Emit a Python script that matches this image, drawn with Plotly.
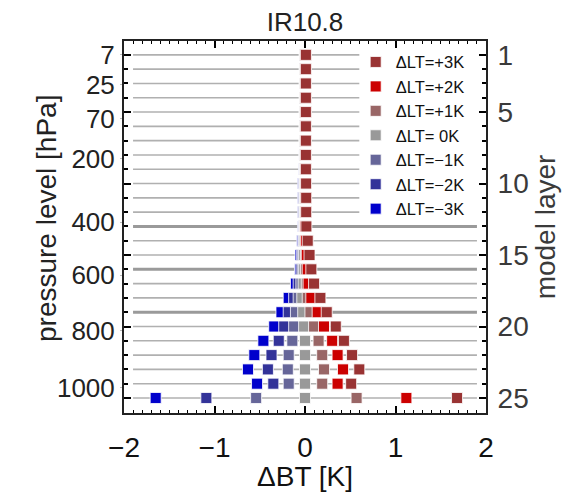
import plotly.graph_objects as go

# ---------------- data ----------------
layers = list(range(1, 26))

series_names = ["ΔLT=−3K", "ΔLT=−2K", "ΔLT=−1K", "ΔLT= 0K", "ΔLT=+1K", "ΔLT=+2K", "ΔLT=+3K"]

dbt_m3 = [-0.003, -0.003, -0.003, -0.003, -0.004, -0.004, -0.005, -0.006, -0.008, -0.02, -0.02, -0.02,
          -0.02, -0.03, -0.05, -0.055, -0.10, -0.18, -0.26, -0.34, -0.46, -0.56, -0.63, -0.53, -1.65]
dbt_m2 = [-0.002, -0.002, -0.002, -0.002, -0.003, -0.003, -0.004, -0.004, -0.005, -0.012, -0.013, -0.013,
          -0.015, -0.02, -0.035, -0.04, -0.07, -0.12, -0.18, -0.23, -0.29, -0.37, -0.41, -0.35, -1.09]
dbt_m1 = [-0.001, -0.001, -0.001, -0.001, -0.001, -0.002, -0.002, -0.002, -0.003, -0.006, -0.007, -0.007,
          -0.01, -0.01, -0.02, -0.025, -0.04, -0.07, -0.10, -0.12, -0.14, -0.18, -0.19, -0.18, -0.54]
dbt_0 = [0.0, 0.0, 0.0, 0.0, 0.0, 0.0, 0.0, 0.0, 0.0, 0.0, 0.0, 0.0,
         -0.005, -0.005, -0.01, -0.01, -0.015, -0.03, -0.02, -0.01, 0.0, 0.0, 0.0, 0.0, 0.0]
dbt_p1 = [0.003, 0.003, 0.003, 0.003, 0.003, 0.003, 0.003, 0.003, 0.004, 0.004, 0.005, 0.005,
          0.0, 0.005, 0.01, 0.01, 0.02, 0.03, 0.06, 0.10, 0.15, 0.19, 0.21, 0.19, 0.57]
dbt_p2 = [0.006, 0.006, 0.006, 0.006, 0.006, 0.006, 0.006, 0.006, 0.007, 0.008, 0.009, 0.009,
          0.005, 0.01, 0.02, 0.03, 0.04, 0.07, 0.14, 0.21, 0.30, 0.36, 0.42, 0.36, 1.12]
dbt_p3 = [0.01, 0.01, 0.01, 0.01, 0.01, 0.01, 0.01, 0.01, 0.01, 0.012, 0.013, 0.013,
          0.015, 0.03, 0.05, 0.07, 0.10, 0.17, 0.24, 0.34, 0.43, 0.52, 0.60, 0.51, 1.68]

series_values = [dbt_m3, dbt_m2, dbt_m1, dbt_0, dbt_p1, dbt_p2, dbt_p3]

pressure_labels = ["7", "25", "70", "200", "400", "600", "800", "1000"]
pressure_label_layer = [1.0, 3.1, 5.47, 8.26, 12.7, 16.4, 20.3, 24.3]

layer_tick_labels = [1, 5, 10, 15, 20, 25]
thick_grid_layers = [13, 16, 19]

# ---------------- style ----------------
colors = ["#0000CC", "#333399", "#666699", "#999999", "#996666", "#CC0000", "#993333"]
FONT = "Liberation Sans, Arial, sans-serif"
Y_RANGE = [26.05, 0.03]
X_RANGE = [-2, 2]
GRID_LEFT = -1.9
GRID_RIGHT = 1.9
GRID_RIGHT_LEGEND = 0.6
LEGEND_ROWS = 12

fig = go.Figure()


def grid_trace(sel_layers, color, width):
    xs, ys = [], []
    for L in sel_layers:
        right = GRID_RIGHT_LEGEND if L <= LEGEND_ROWS else GRID_RIGHT
        xs += [GRID_LEFT, right, None]
        ys += [L, L, None]
    return go.Scatter(x=xs, y=ys, mode="lines", line=dict(color=color, width=width),
                      showlegend=False, hoverinfo="skip", yaxis="y")


thin_layers = [L for L in layers if L not in thick_grid_layers]
thick_layers = [L for L in layers if L in thick_grid_layers]
fig.add_trace(grid_trace(thin_layers, "#b0b0b0", 1.6))
fig.add_trace(grid_trace(thick_layers, "#9a9a9a", 3))

for name, vals, col in zip(series_names, series_values, colors):
    fig.add_trace(go.Scatter(
        x=vals, y=layers, mode="markers", name=name,
        marker=dict(symbol="square", size=11, color=col,
                    line=dict(color="rgba(255,255,255,0.8)", width=1)),
        yaxis="y2",
    ))

fig.update_layout(
    template="none",
    width=563, height=492,
    margin=dict(l=124, r=77, t=41, b=79, autoexpand=False),
    paper_bgcolor="white", plot_bgcolor="white",
    font=dict(family=FONT, size=28, color="#1a1a1a"),
    title=dict(text="IR10.8", x=0.5, xref="paper", y=1 - 22 / 492, yref="container",
               xanchor="center", yanchor="middle", font=dict(size=26, color="#222")),
    showlegend=True,
    legend=dict(x=0.64, y=0.99, xanchor="left", yanchor="top", traceorder="reversed",
                bgcolor="rgba(0,0,0,0)", borderwidth=0,
                font=dict(size=16.5, color="#111", family=FONT)),
    annotations=[dict(text="pressure level [hPa]", xref="paper", yref="paper",
                      x=(46 - 124) / 362, y=(413 - 219) / 372, xanchor="center", yanchor="middle",
                      textangle=-90, showarrow=False, font=dict(size=28, color="#222"))],
    xaxis=dict(range=X_RANGE, tickmode="linear", tick0=0, dtick=1, automargin=False,
               ticks="inside", ticklen=7, tickwidth=1.5, tickcolor="black",
               minor=dict(dtick=0.1, tick0=0, ticks="inside", ticklen=3, tickcolor="black", tickwidth=1),
               showline=True, linecolor="#222", linewidth=2, mirror="ticks",
               showgrid=False, zeroline=False, ticklabelstandoff=8,
               tickfont=dict(size=28, color="#111"),
               title=dict(text="ΔBT [K]", font=dict(size=28, color="#111"), standoff=0)),
    yaxis=dict(range=Y_RANGE, tickmode="array", tickvals=pressure_label_layer, ticktext=pressure_labels,
               automargin=False,
               ticks="outside", ticklen=2, tickcolor="#bbbbbb", tickwidth=1,
               showline=True, linecolor="#222", linewidth=2,
               showgrid=False, zeroline=False,
               tickfont=dict(size=26, color="#222")),
    yaxis2=dict(range=Y_RANGE, overlaying="y", side="right", anchor="x", automargin=False,
                tickmode="array", tickvals=layer_tick_labels, ticktext=[str(v) for v in layer_tick_labels],
                ticks="inside", ticklen=7, tickwidth=1.5, tickcolor="black",
                minor=dict(tickmode="array", tickvals=layers, ticks="inside", ticklen=4,
                           tickcolor="black", tickwidth=1.5),
                showline=True, linecolor="#222", linewidth=2, mirror="ticks",
                showgrid=False, zeroline=False, ticklabelstandoff=4,
                tickfont=dict(size=28, color="#3a3a3a"),
                title=dict(text="model layer", font=dict(size=28, color="#3a3a3a"), standoff=8)),
)

fig.write_html("out.html")
